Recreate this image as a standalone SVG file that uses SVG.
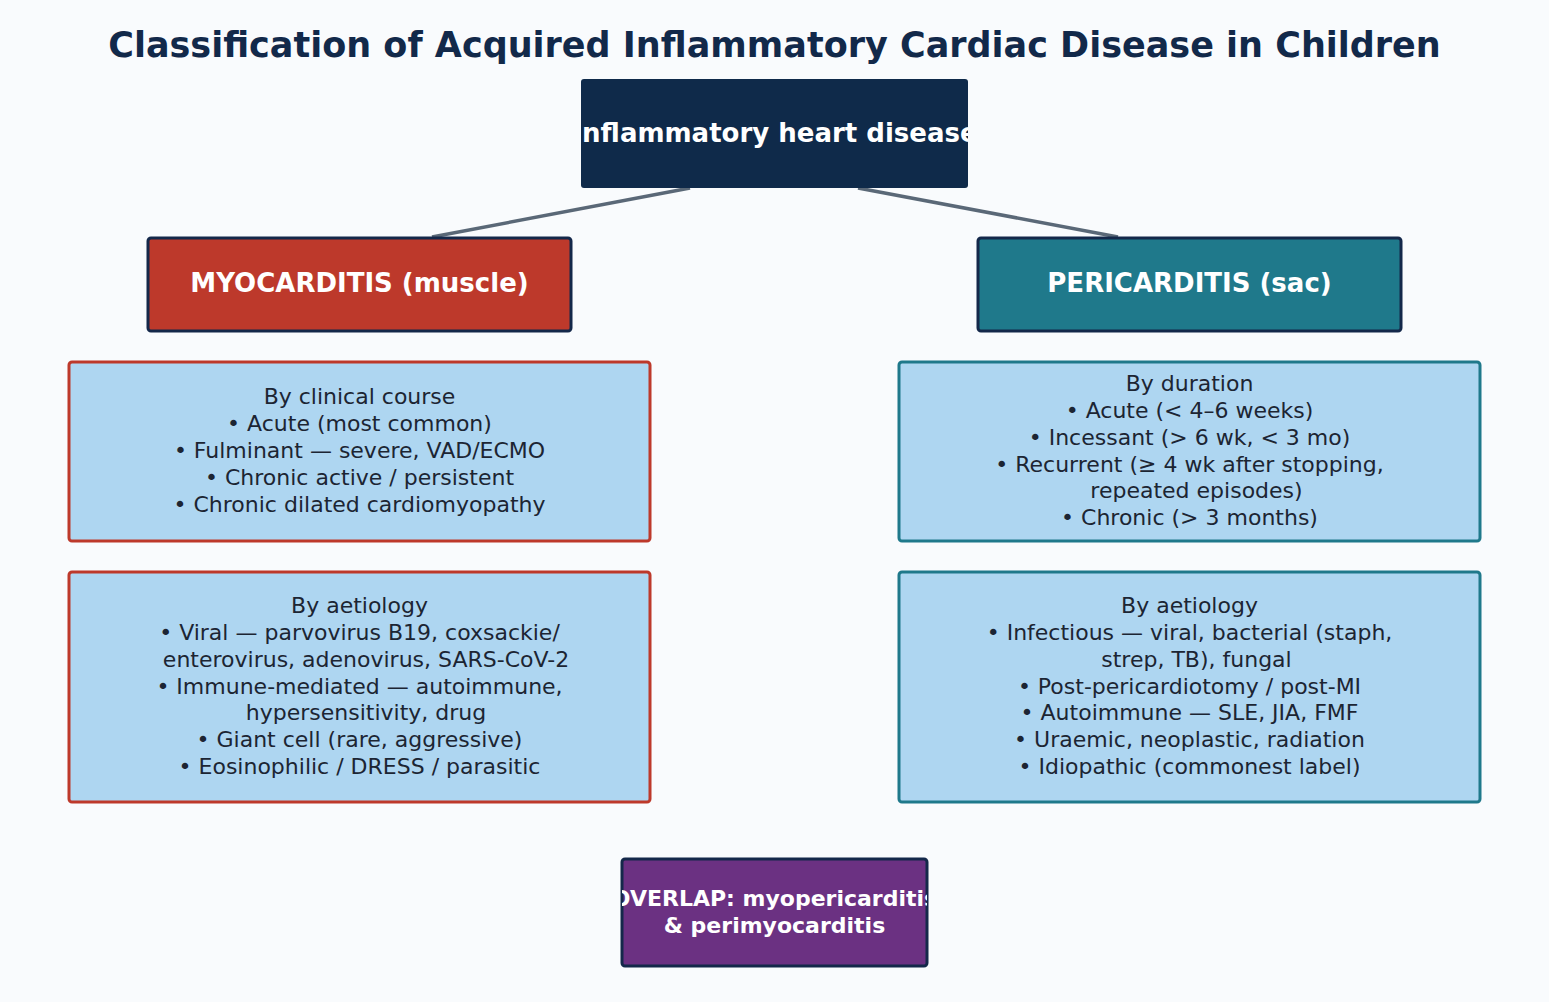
<svg xmlns="http://www.w3.org/2000/svg" width="1549" height="1002" viewBox="0 0 1549 1002">
<style>
.t{font-family:"DejaVu Sans",sans-serif;text-anchor:middle}
.title{font-size:35px;font-weight:bold;fill:#12294a}
.hd{font-size:26px;font-weight:bold;fill:#ffffff}
.body{font-size:22px;fill:#1c2533}
.ov{font-size:22px;font-weight:bold;fill:#ffffff}
.conn{stroke:#5a6877;stroke-width:3.5;fill:none}
.dk{stroke:#14284a;stroke-width:3}
.bl{fill:#aed6f1;stroke-width:3}
</style>
<defs>
<clipPath id="cRoot"><rect x="581" y="79" width="387" height="109"/></clipPath>
<clipPath id="cOv"><rect x="622" y="859" width="305" height="107"/></clipPath>
</defs>
<rect width="1549" height="1002" fill="#f9fbfd"/>
<text class="t title" x="774.5" y="57">Classification of Acquired Inflammatory Cardiac Disease in Children</text>
<g id="connectors">
<line class="conn" x1="690" y1="188" x2="432" y2="237"/>
<line class="conn" x1="858" y1="188" x2="1118" y2="237"/>
</g>
<g id="root">
<rect x="581" y="79" width="387" height="109" rx="3" fill="#0f2a4a"/>
<text class="t hd" x="775" y="142" clip-path="url(#cRoot)">Inflammatory heart disease</text>
</g>
<g id="myo">
<rect class="dk" x="148" y="238" width="423" height="93" rx="3" fill="#bd392b"/>
<text class="t hd" x="359.5" y="292">MYOCARDITIS (muscle)</text>
</g>
<g id="peri">
<rect class="dk" x="978" y="238" width="423" height="93" rx="3" fill="#1f798b"/>
<text class="t hd" x="1189.5" y="292">PERICARDITIS (sac)</text>
</g>
<g id="myo-course">
<rect class="bl" x="69" y="362" width="581" height="179" rx="3" stroke="#bd392b"/>
<text class="t body" x="359.5" y="404">By clinical course</text>
<text class="t body" x="359.5" y="431">• Acute (most common)</text>
<text class="t body" x="359.5" y="458">• Fulminant — severe, VAD/ECMO</text>
<text class="t body" x="359.5" y="485">• Chronic active / persistent</text>
<text class="t body" x="359.5" y="512">• Chronic dilated cardiomyopathy</text>
</g>
<g id="peri-duration">
<rect class="bl" x="899" y="362" width="581" height="179" rx="3" stroke="#1f798b"/>
<text class="t body" x="1189.5" y="391">By duration</text>
<text class="t body" x="1189.5" y="418">• Acute (&lt; 4–6 weeks)</text>
<text class="t body" x="1189.5" y="445">• Incessant (&gt; 6 wk, &lt; 3 mo)</text>
<text class="t body" x="1189.5" y="472">• Recurrent (≥ 4 wk after stopping,</text>
<text class="t body" x="1196.5" y="498">repeated episodes)</text>
<text class="t body" x="1189.5" y="525">• Chronic (&gt; 3 months)</text>
</g>
<g id="myo-aetiology">
<rect class="bl" x="69" y="572" width="581" height="230" rx="3" stroke="#bd392b"/>
<text class="t body" x="359.5" y="613">By aetiology</text>
<text class="t body" x="359.5" y="640">• Viral — parvovirus B19, coxsackie/</text>
<text class="t body" x="366" y="667">enterovirus, adenovirus, SARS-CoV-2</text>
<text class="t body" x="359.5" y="694">• Immune-mediated — autoimmune,</text>
<text class="t body" x="366" y="720">hypersensitivity, drug</text>
<text class="t body" x="359.5" y="747">• Giant cell (rare, aggressive)</text>
<text class="t body" x="359.5" y="774">• Eosinophilic / DRESS / parasitic</text>
</g>
<g id="peri-aetiology">
<rect class="bl" x="899" y="572" width="581" height="230" rx="3" stroke="#1f798b"/>
<text class="t body" x="1189.5" y="613">By aetiology</text>
<text class="t body" x="1189.5" y="640">• Infectious — viral, bacterial (staph,</text>
<text class="t body" x="1196.5" y="667">strep, TB), fungal</text>
<text class="t body" x="1189.5" y="694">• Post-pericardiotomy / post-MI</text>
<text class="t body" x="1189.5" y="720">• Autoimmune — SLE, JIA, FMF</text>
<text class="t body" x="1189.5" y="747">• Uraemic, neoplastic, radiation</text>
<text class="t body" x="1189.5" y="774">• Idiopathic (commonest label)</text>
</g>
<g id="overlap">
<rect class="dk" x="622" y="859" width="305" height="107" rx="3" fill="#6b3182"/>
<g clip-path="url(#cOv)">
<text class="t ov" x="774.5" y="906">OVERLAP: myopericarditis</text>
<text class="t ov" x="774.5" y="933">&amp; perimyocarditis</text>
</g>
</g>
</svg>
